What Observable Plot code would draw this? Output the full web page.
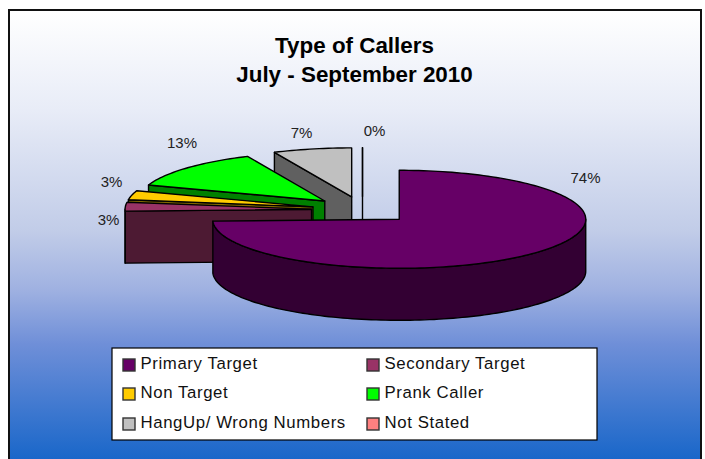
<!DOCTYPE html>
<html>
<head>
<meta charset="utf-8">
<script src="https://cdn.jsdelivr.net/npm/d3@7"></script>
<script src="https://cdn.jsdelivr.net/npm/@observablehq/plot@0.6"></script>
<style>
html,body{margin:0;padding:0;background:#fff;}
#frame{position:absolute;left:8px;top:9px;width:690px;height:450px;border:2px solid #111;border-bottom:none;
background:linear-gradient(to bottom,#ffffff 0%,#e8ecf7 22%,#c1cce8 49%,#9fb1e1 62%,#6f8fd8 74%,#1866c9 100%);}
#chart{position:absolute;left:0;top:0;}
.lg text{letter-spacing:.6px;}
</style>
</head>
<body>
<div id="frame"></div>
<div id="chart"></div>
<script>
const categories = ["Primary Target","Secondary Target","Non Target","Prank Caller","HangUp/ Wrong Numbers","Not Stated"];
const shares = [74.4,2.9,3.0,12.9,6.8,0];
const topColors = ["#660066","#993366","#ffcc00","#00ff00","#c0c0c0","#ff8080"];
const wallColors = ["#330033","#4d1a33","#806600","#008000","#606060","#804040"];
const shareLabels = ["74%","3%","3%","13%","7%","0%"];
const titleLines = ["Type of Callers","July - September 2010"];

// layout of the projected pie
const pie = {cx:362, cy:209.5, rx:186.5, ry:49, depth:52, explode:51};
const labelSpots = [[585,178],[108,220],[111,182],[181.5,143],[301,133],[374,131]];
const legendBox = {x1:112, x2:597, y1:348, y2:440};
const legendRows = [363,392,422], legendCols = [123,367];

const rad = d => d*Math.PI/180;
const onRim = (c,a,dz=0) => ({x:c.x+pie.rx*Math.sin(rad(a)), y:c.y-pie.ry*Math.cos(rad(a))+dz});
const arc = (c,a0,a1,dz=0) => {
  const n = Math.max(1,Math.ceil(Math.abs(a1-a0)/1.5));
  return d3.range(n+1).map(i=>onRim(c,a0+(a1-a0)*i/n,dz));
};
let acc = 0;
const slices = shares.map((v,i)=>{
  const a0 = acc*3.6; acc += v; const a1 = acc*3.6; const mid=(a0+a1)/2;
  const tip = {x:pie.cx+pie.explode*Math.sin(rad(mid)), y:pie.cy-pie.explode*pie.ry/pie.rx*Math.cos(rad(mid))};
  return {i,a0,a1,tip};
});
const polys = [];
const sh = (p,d)=>({x:p.x,y:p.y+d});
function addSlice(s){
  const {i,a0,a1,tip}=s, d=pie.depth;
  // cut face visible on the front-left side
  if(a0>180){
    const r=onRim(tip,a0);
    polys.push({pts:[tip,r,sh(r,d),sh(tip,d)],fill:wallColors[i]});
  }
  // outer rim visible on the front half
  const lo=Math.max(a0,90), hi=Math.min(a1,270);
  if(hi>lo) polys.push({pts:[...arc(tip,lo,hi),...arc(tip,hi,lo,d)],fill:wallColors[i]});
  polys.push({pts:[tip,...arc(tip,a0,a1)],fill:topColors[i]});
}
[5,4,3,2,1,0].forEach(i=>addSlice(slices[i]));

const legendItems = categories.map((name,i)=>({name,color:topColors[i],col:legendCols[i%2],row:legendRows[Math.floor(i/2)]}));
const fontFamily = "'Liberation Sans',Arial,sans-serif";

const chart = Plot.plot({
  width:705,height:459,margin:0,
  style:{background:"transparent",fontFamily},
  x:{domain:[0,705],range:[0,705],axis:null},
  y:{domain:[0,459],range:[0,459],axis:null},
  marks:[
    ...polys.map(p=>Plot.line(p.pts,{x:"x",y:"y",fill:p.fill,stroke:"#000",strokeWidth:1.4,curve:"linear-closed",strokeLinejoin:"round"})),
    Plot.text(titleLines,{x:()=>354,y:(d,i)=>45+i*29,text:d=>d,fontSize:22.4,fontWeight:"bold",fill:"#000"}),
    Plot.text(shareLabels,{x:(d,i)=>labelSpots[i][0],y:(d,i)=>labelSpots[i][1],text:d=>d,fontSize:15,fill:"#222"}),
    Plot.rect([legendBox],{x1:"x1",x2:"x2",y1:"y1",y2:"y2",fill:"#fff",stroke:"#000",strokeWidth:1.2}),
    Plot.rect(legendItems,{x1:d=>d.col,x2:d=>d.col+12,y1:d=>d.row-4,y2:d=>d.row+8,fill:"color",stroke:"#333",strokeWidth:1.4}),
    Plot.text(legendItems,{x:d=>d.col+17,y:d=>d.row,text:"name",textAnchor:"start",fontSize:16.8,fill:"#111",className:"lg"})
  ]
});
document.getElementById("chart").appendChild(chart);
</script>
</body>
</html>
